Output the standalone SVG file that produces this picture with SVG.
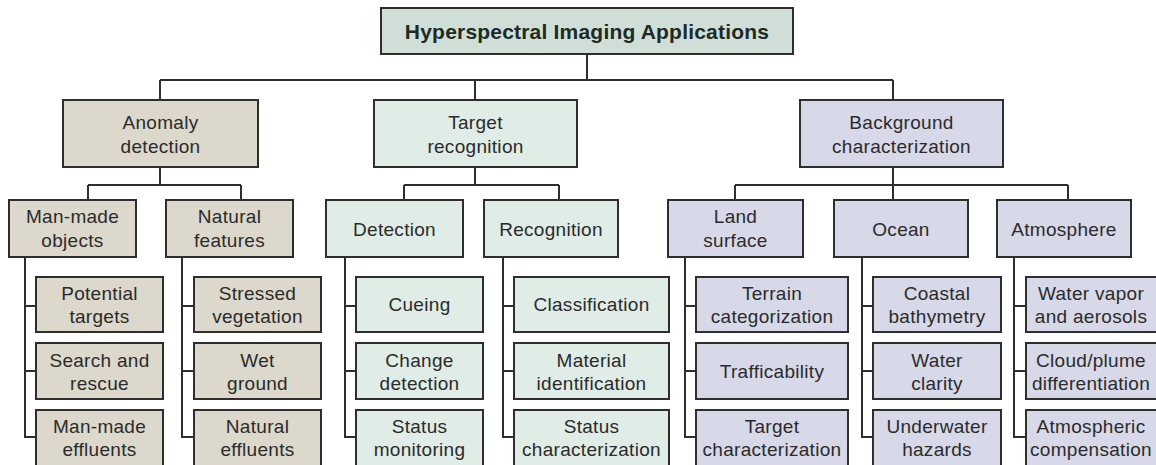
<svg xmlns="http://www.w3.org/2000/svg" width="1156" height="465" viewBox="0 0 1156 465">
<style>
rect{stroke:#2e2e2e;stroke-width:2}
.t{fill:#cfdfd8}
.a{fill:#dcd8cb}
.g{fill:#e0ece6}
.b{fill:#d7d8e8}
text{font-family:"Liberation Sans",Arial,sans-serif;font-size:19px;letter-spacing:0.3px;fill:#2b2b2b;text-anchor:middle}
.title{font-weight:bold;font-size:21px;letter-spacing:0.2px;fill:#1e2a24}
#connectors path{fill:none;stroke:#2e2e2e;stroke-width:2}
</style>
<g id="connectors">
<path d="M587,54V80M160,80H893M160,80V100M475,80V100M893,80V100"/>
<path d="M160,167V185M88,185H241M88,185V200M241,185V200"/>
<path d="M475,167V185M404,185H559M404,185V200M559,185V200"/>
<path d="M893,167V185M735,185H1068M735,185V200M893,185V200M1068,185V200"/>
<path d="M25,257V437H36M25,306H36M25,371H36"/>
<path d="M182,257V437H194M182,306H194M182,371H194"/>
<path d="M345,257V437H356M345,306H356M345,371H356"/>
<path d="M503,257V437H514M503,306H514M503,371H514"/>
<path d="M685,257V437H696M685,306H696M685,371H696"/>
<path d="M862,257V437H873M862,306H873M862,371H873"/>
<path d="M1014,257V437H1026M1014,306H1026M1014,371H1026"/>
</g>
<g id="root"><rect class="t" x="381" y="8" width="412" height="46"/><text class="title" x="587" y="39">Hyperspectral Imaging Applications</text></g>
<g id="anomaly"><rect class="a" x="63" y="100" width="195" height="67"/><text x="160.5" y="129">Anomaly</text><text x="160.5" y="153">detection</text></g>
<g id="target"><rect class="g" x="374" y="100" width="203" height="67"/><text x="475.5" y="129">Target</text><text x="475.5" y="153">recognition</text></g>
<g id="background"><rect class="b" x="800" y="100" width="203" height="67"/><text x="901.5" y="129">Background</text><text x="901.5" y="153">characterization</text></g>
<g id="manmade"><rect class="a" x="9" y="200" width="127" height="57"/><text x="72.5" y="223">Man-made</text><text x="72.5" y="247">objects</text></g>
<g id="natural"><rect class="a" x="166" y="200" width="127" height="57"/><text x="229.5" y="223">Natural</text><text x="229.5" y="247">features</text></g>
<g id="detection"><rect class="g" x="326" y="200" width="137" height="57"/><text x="394.5" y="235.5">Detection</text></g>
<g id="recognition"><rect class="g" x="484" y="200" width="134" height="57"/><text x="551" y="235.5">Recognition</text></g>
<g id="land"><rect class="b" x="668" y="200" width="135" height="57"/><text x="735.5" y="223">Land</text><text x="735.5" y="247">surface</text></g>
<g id="ocean"><rect class="b" x="834" y="200" width="134" height="57"/><text x="901" y="235.5">Ocean</text></g>
<g id="atmosphere"><rect class="b" x="997" y="200" width="134" height="57"/><text x="1064" y="235.5">Atmosphere</text></g>
<g id="potential"><rect class="a" x="36" y="277" width="127" height="55"/><text x="99.5" y="300">Potential</text><text x="99.5" y="323">targets</text></g>
<g id="search"><rect class="a" x="36" y="343" width="127" height="56"/><text x="99.5" y="366.5">Search and</text><text x="99.5" y="389.5">rescue</text></g>
<g id="mmeffluents"><rect class="a" x="36" y="410" width="127" height="58"/><text x="99.5" y="433">Man-made</text><text x="99.5" y="456">effluents</text></g>
<g id="stressed"><rect class="a" x="194" y="277" width="127" height="55"/><text x="257.5" y="300">Stressed</text><text x="257.5" y="323">vegetation</text></g>
<g id="wet"><rect class="a" x="194" y="343" width="127" height="56"/><text x="257.5" y="366.5">Wet</text><text x="257.5" y="389.5">ground</text></g>
<g id="neffluents"><rect class="a" x="194" y="410" width="127" height="58"/><text x="257.5" y="433">Natural</text><text x="257.5" y="456">effluents</text></g>
<g id="cueing"><rect class="g" x="356" y="277" width="127" height="55"/><text x="419.5" y="311">Cueing</text></g>
<g id="change"><rect class="g" x="356" y="343" width="127" height="56"/><text x="419.5" y="366.5">Change</text><text x="419.5" y="389.5">detection</text></g>
<g id="monitoring"><rect class="g" x="356" y="410" width="127" height="58"/><text x="419.5" y="433">Status</text><text x="419.5" y="456">monitoring</text></g>
<g id="classification"><rect class="g" x="514" y="277" width="155" height="55"/><text x="591.5" y="311">Classification</text></g>
<g id="material"><rect class="g" x="514" y="343" width="155" height="56"/><text x="591.5" y="366.5">Material</text><text x="591.5" y="389.5">identification</text></g>
<g id="statuschar"><rect class="g" x="514" y="410" width="155" height="58"/><text x="591.5" y="433">Status</text><text x="591.5" y="456">characterization</text></g>
<g id="terrain"><rect class="b" x="696" y="277" width="152" height="55"/><text x="772" y="300">Terrain</text><text x="772" y="323">categorization</text></g>
<g id="trafficability"><rect class="b" x="696" y="343" width="152" height="56"/><text x="772" y="377.5">Trafficability</text></g>
<g id="targetchar"><rect class="b" x="696" y="410" width="152" height="58"/><text x="772" y="433">Target</text><text x="772" y="456">characterization</text></g>
<g id="coastal"><rect class="b" x="873" y="277" width="128" height="55"/><text x="937" y="300">Coastal</text><text x="937" y="323">bathymetry</text></g>
<g id="clarity"><rect class="b" x="873" y="343" width="128" height="56"/><text x="937" y="366.5">Water</text><text x="937" y="389.5">clarity</text></g>
<g id="hazards"><rect class="b" x="873" y="410" width="128" height="58"/><text x="937" y="433">Underwater</text><text x="937" y="456">hazards</text></g>
<g id="vapor"><rect class="b" x="1026" y="277" width="134" height="55"/><text x="1091" y="300">Water vapor</text><text x="1091" y="323">and aerosols</text></g>
<g id="cloud"><rect class="b" x="1026" y="343" width="134" height="56"/><text x="1091" y="366.5">Cloud/plume</text><text x="1091" y="389.5">differentiation</text></g>
<g id="compensation"><rect class="b" x="1026" y="410" width="134" height="58"/><text x="1091" y="433">Atmospheric</text><text x="1091" y="456">compensation</text></g>
</svg>
